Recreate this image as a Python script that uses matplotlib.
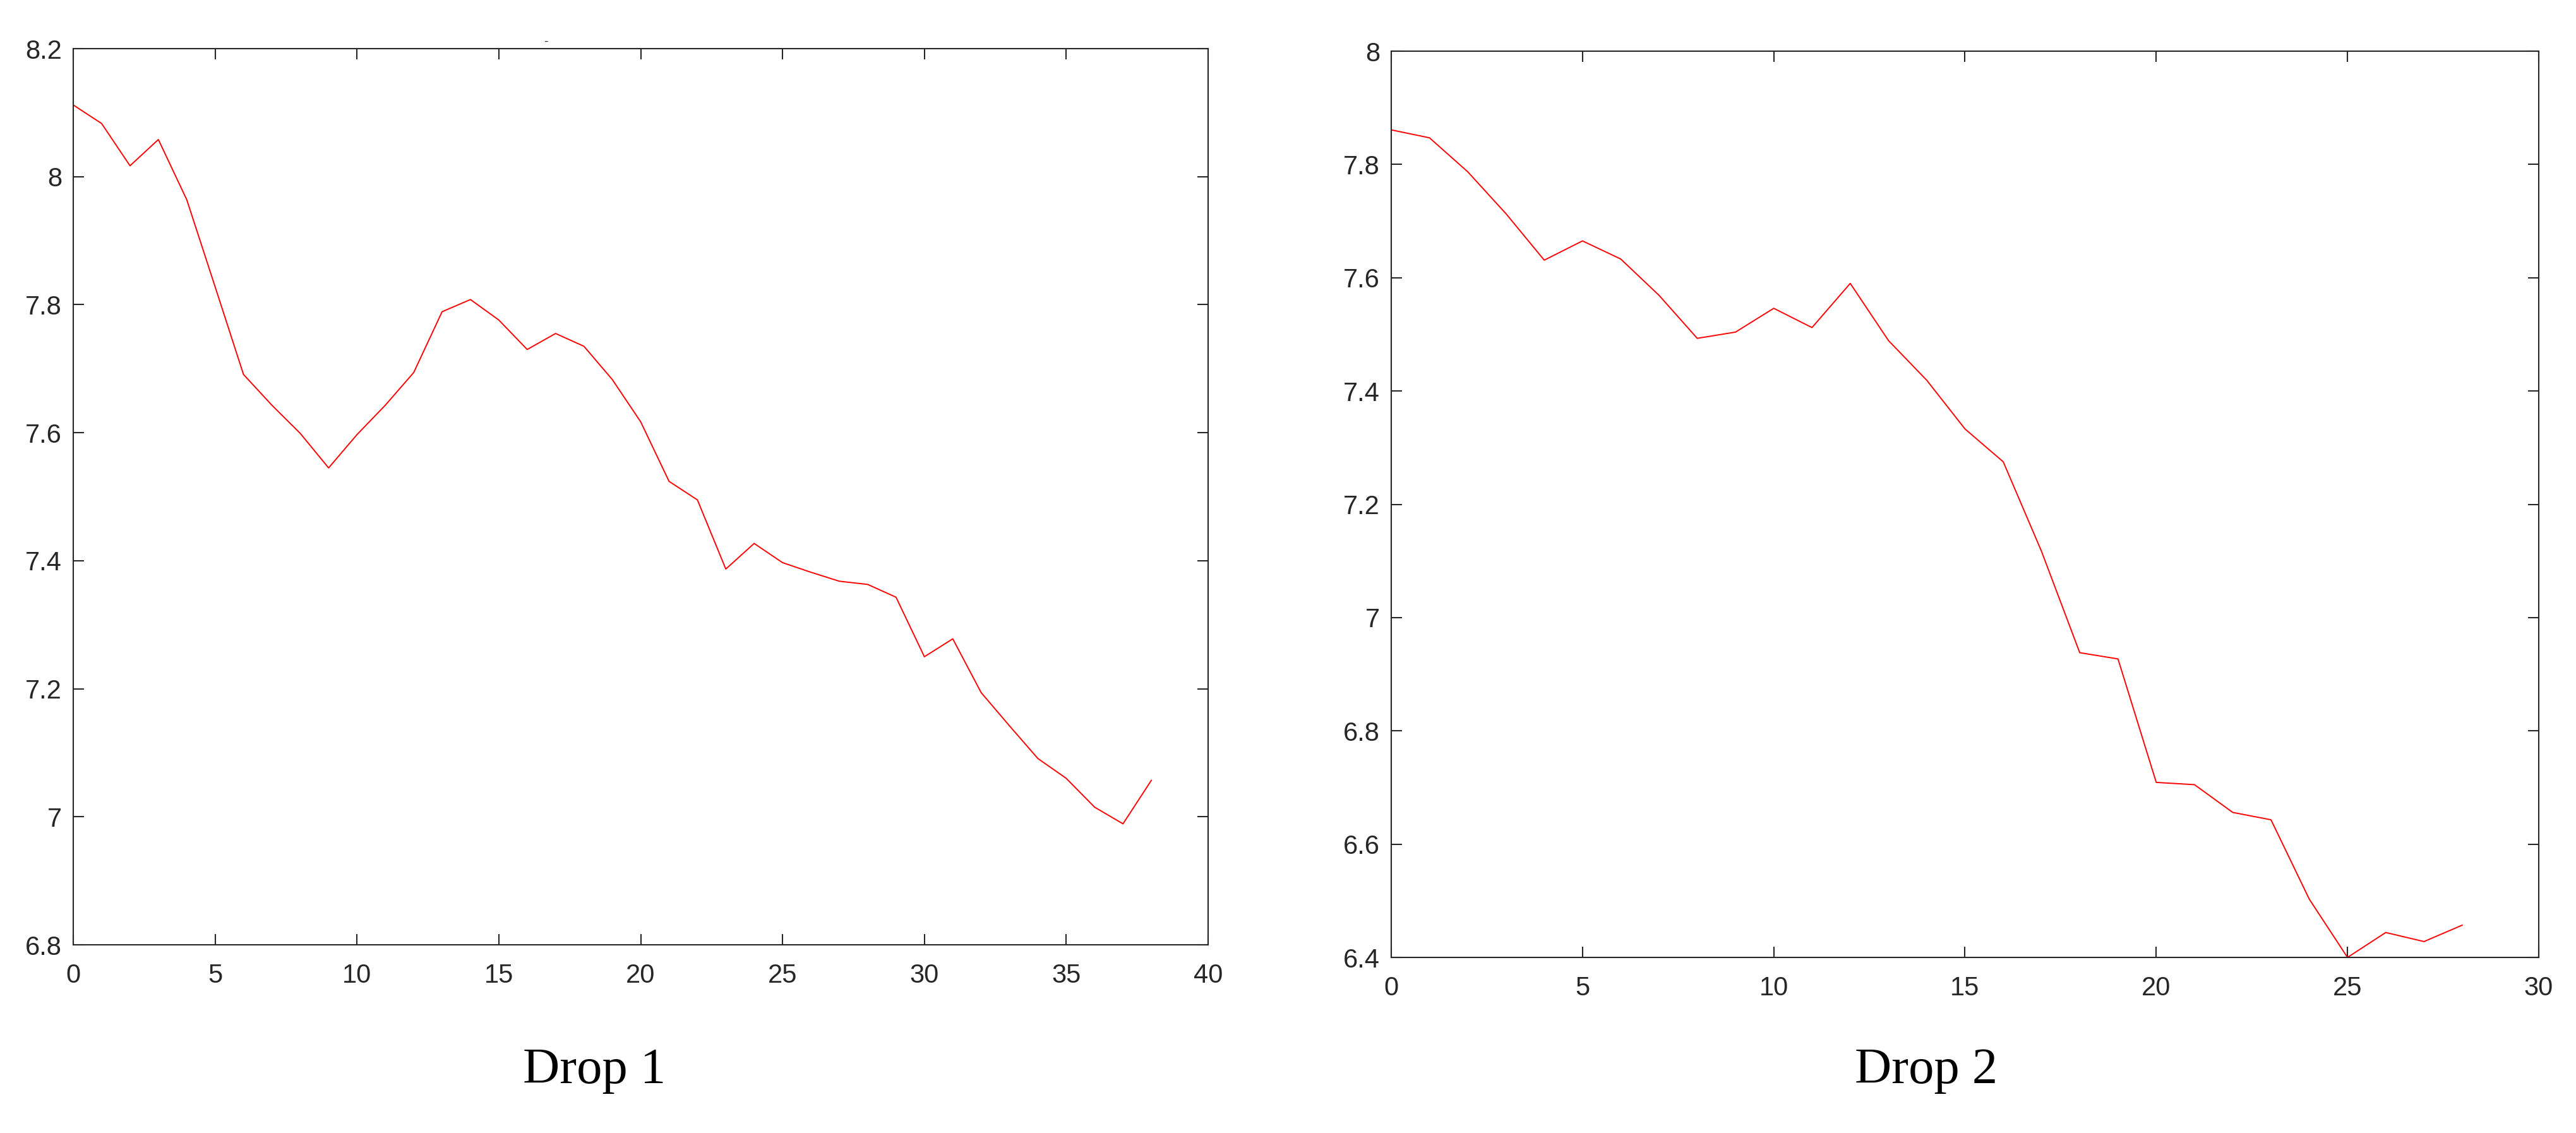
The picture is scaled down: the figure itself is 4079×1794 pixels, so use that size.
import matplotlib
matplotlib.use("Agg")
import matplotlib.pyplot as plt

# values
drop1_x = list(range(39))
drop1_y = [8.112, 8.083, 8.017, 8.058, 7.964, 7.828, 7.691, 7.643, 7.599, 7.545,
           7.597, 7.643, 7.694, 7.789, 7.808, 7.776, 7.730, 7.755, 7.735, 7.683,
           7.617, 7.524, 7.495, 7.387, 7.427, 7.397, 7.382, 7.368, 7.363, 7.343,
           7.250, 7.278, 7.194, 7.142, 7.091, 7.060, 7.015, 6.989, 7.057]

drop2_x = list(range(29))
drop2_y = [7.861, 7.847, 7.787, 7.713, 7.631, 7.665, 7.633, 7.569, 7.493, 7.504,
           7.546, 7.512, 7.590, 7.489, 7.419, 7.333, 7.275, 7.117, 6.938, 6.927,
           6.709, 6.705, 6.656, 6.643, 6.503, 6.400, 6.444, 6.428, 6.457]

captions = ["Drop 1", "Drop 2"]

dark = "#262626"
plt.rcParams["font.family"] = ["Liberation Sans", "DejaVu Sans"]

fig = plt.figure(figsize=(40.8, 17.94), dpi=100)
ax1 = fig.add_axes([116 / 4080, 1 - 1496 / 1794, 1797 / 4080, 1419 / 1794])
ax2 = fig.add_axes([2203 / 4080, 1 - 1516 / 1794, 1817 / 4080, 1435 / 1794])


def style(ax, xlim, ylim, xticks, yticks):
    ax.set_xlim(*xlim)
    ax.set_ylim(*ylim)
    ax.set_xticks(xticks)
    ax.set_yticks(yticks)
    ax.set_xticklabels([f"{t:g}" for t in xticks])
    ax.set_yticklabels([f"{t:g}" for t in yticks])
    for s in ax.spines.values():
        s.set_color(dark)
        s.set_linewidth(1.5)
    ax.tick_params(axis="both", direction="in", length=12, width=1.5,
                   colors=dark, labelsize=30, top=True, right=True)
    ax.tick_params(axis="x", pad=21)
    ax.tick_params(axis="y", pad=13)


ax1.plot(drop1_x, drop1_y, color="red", linewidth=1.4)
style(ax1, (0, 40), (6.8, 8.2), [0, 5, 10, 15, 20, 25, 30, 35, 40],
      [6.8, 7.0, 7.2, 7.4, 7.6, 7.8, 8.0, 8.2])

ax2.plot(drop2_x, drop2_y, color="red", linewidth=1.4)
style(ax2, (0, 30), (6.4, 8.0), [0, 5, 10, 15, 20, 25, 30],
      [6.4, 6.6, 6.8, 7.0, 7.2, 7.4, 7.6, 7.8, 8.0])

# small stray mark above the left panel
fig.text(864 / 4080, 1 - 66 / 1794, "-", fontsize=14, color=dark,
         ha="center", va="center")

fig.text(941 / 4080, 1 - 1715 / 1794, captions[0], fontsize=58,
         family="Liberation Serif", ha="center", va="baseline")
fig.text(3050 / 4080, 1 - 1715 / 1794, captions[1], fontsize=58,
         family="Liberation Serif", ha="center", va="baseline")

fig.savefig("out.png", dpi=100, facecolor="white")
